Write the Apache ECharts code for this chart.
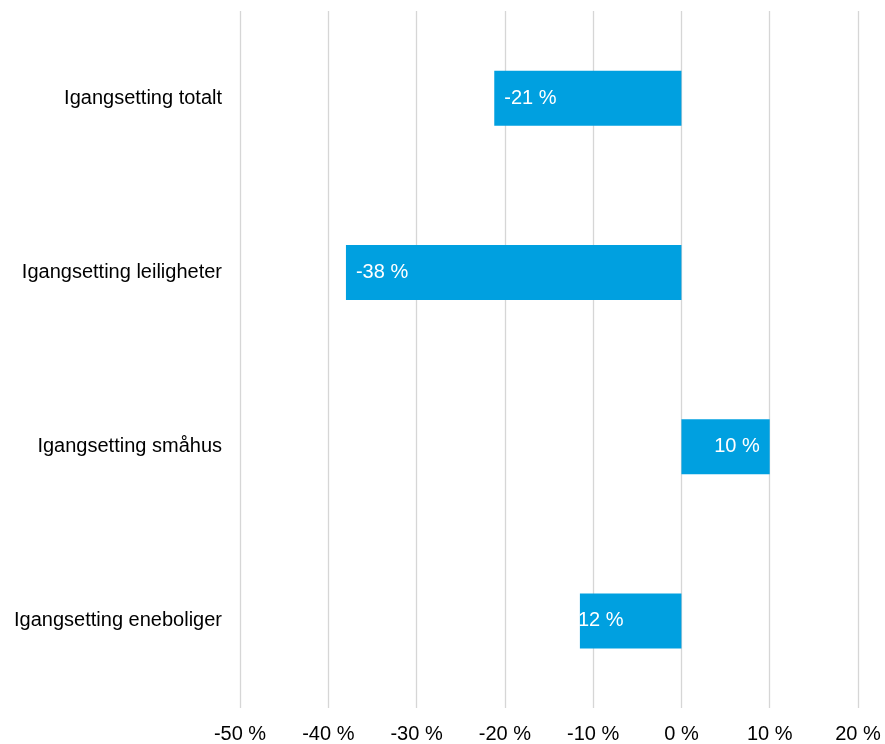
<!DOCTYPE html>
<html>
<head>
<meta charset="utf-8">
<script src="https://cdn.jsdelivr.net/npm/echarts@6/dist/echarts.min.js"></script>
<style>html,body{margin:0;padding:0;background:#fff}#c{width:885px;height:744px}</style>
</head>
<body>
<div id="c"></div>
<script>
const categories = ['Igangsetting totalt', 'Igangsetting leiligheter', 'Igangsetting småhus', 'Igangsetting eneboliger'];
const values = [-21.2, -38, 10, -11.5];
const valueLabels = ['-21 %', '-38 %', '10 %', '12 %'];
const xTicks = [-50, -40, -30, -20, -10, 0, 10, 20];

const chart = echarts.init(document.getElementById('c'));
const data = values.map((v, i) => ({
  value: v,
  label: {
    position: v < 0 ? 'insideLeft' : 'insideRight',
    distance: i === 3 ? -2 : 10,
    formatter: valueLabels[i]
  }
}));
chart.setOption({
  animation: false,
  grid: { left: 240, right: 27, top: 11, bottom: 35, containLabel: false },
  xAxis: {
    type: 'value',
    min: xTicks[0], max: xTicks[xTicks.length - 1], interval: 10,
    axisLine: { show: false }, axisTick: { show: false },
    splitLine: { lineStyle: { color: '#D6D6D6', width: 1.3 } },
    axisLabel: { formatter: v => v + ' %', fontFamily: 'Liberation Sans, Arial', fontSize: 20, color: '#000', margin: 16 }
  },
  yAxis: {
    type: 'category', data: categories, inverse: true,
    axisLine: { show: false }, axisTick: { show: false },
    axisLabel: { fontFamily: 'Liberation Sans, Arial', fontSize: 20, color: '#000', margin: 18 }
  },
  series: [{
    type: 'bar', data: data, barWidth: 55,
    itemStyle: { color: '#00A0E0' },
    label: { show: true, color: '#fff', fontFamily: 'Liberation Sans, Arial', fontSize: 20 }
  }]
});
</script>
</body>
</html>
